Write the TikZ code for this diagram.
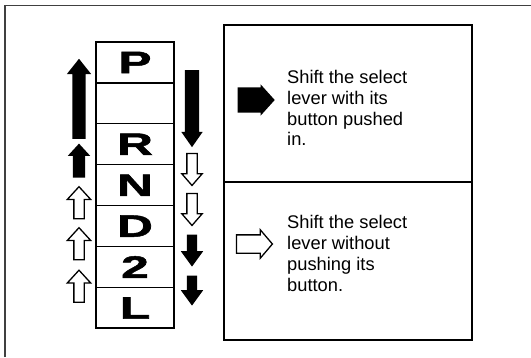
\documentclass[tikz,border=0pt]{standalone}
\usepackage{fontspec}
\setmainfont{Liberation Sans}
\newfontfamily\gearfont{Liberation Sans}[FakeBold=1.5]
\usepackage{graphicx}
\usetikzlibrary{positioning, shapes.arrows}
\newcommand{\gear}[1]{\scalebox{1.6}[1]{#1}}

\begin{document}
\begin{tikzpicture}[
    x=1pt, y=-1pt,
    node distance=0pt,
    cell/.style={draw, rectangle, line width=1.1pt, minimum width=78pt, minimum height=40.9pt, inner sep=0pt, outer sep=0pt, font=\fontsize{31}{31}\gearfont\bfseries},
    panel/.style={draw, rectangle, line width=1.2pt, minimum width=248pt, inner sep=0pt, outer sep=0pt},
    note/.style={anchor=north west, inner sep=0pt, align=left, font=\fontsize{18.3}{20.8}\selectfont},
    blackarrow/.style={single arrow, fill=black, draw=none, inner xsep=0pt},
    whitearrow/.style={single arrow, fill=white, draw=black, line width=1.3pt, inner xsep=0pt}
]
\useasboundingbox (0,0) rectangle (531,357);
\draw[line width=1.5pt, black!75] (5,357) -- (5,5.5) -- (531,5.5);

\node[cell] (P) at (135,62.5) {\gear{P}};
\node[cell, below=of P] (blank) {};
\node[cell, below=of blank] (R) {\gear{R}};
\node[cell, below=of R] (N) {\gear{N}};
\node[cell, below=of N] (D) {\gear{D}};
\node[cell, below=of D] (2) {\gear{2}};
\node[cell, below=of 2] (L) {\gear{L}};
\draw[line width=2pt] (P.north west) rectangle (L.south east);

\node[blackarrow, rotate=90, minimum height=80pt, inner ysep=6.5pt, single arrow head extend=5.5pt, single arrow tip angle=77] (up1) at (79,103) {};
\node[blackarrow, rotate=90, minimum height=34pt, inner ysep=6pt, single arrow head extend=5pt, single arrow tip angle=85] (up2) at (79,164) {};
\node[whitearrow, rotate=90, minimum height=32pt, inner ysep=4.5pt, single arrow head extend=6.5pt, single arrow tip angle=85] (up3) at (79,205.5) {};
\node[whitearrow, rotate=90, minimum height=32pt, inner ysep=4.5pt, single arrow head extend=6.5pt, single arrow tip angle=85] (up4) at (79,246.5) {};
\node[whitearrow, rotate=90, minimum height=32pt, inner ysep=4.5pt, single arrow head extend=6.5pt, single arrow tip angle=85] (up5) at (79,289) {};

\node[blackarrow, rotate=-90, minimum height=77pt, inner ysep=7pt, single arrow head extend=3.5pt, single arrow tip angle=70] (down1) at (192,103.5) {};
\node[whitearrow, rotate=-90, minimum height=32pt, inner ysep=4.5pt, single arrow head extend=5pt, single arrow tip angle=82] (down2) at (192,166.5) {};
\node[whitearrow, rotate=-90, minimum height=32pt, inner ysep=4.5pt, single arrow head extend=5pt, single arrow tip angle=82] (down3) at (192,206.5) {};
\node[blackarrow, rotate=-90, minimum height=32pt, inner ysep=5pt, single arrow head extend=6pt, single arrow tip angle=72] (down4) at (192,247) {};
\node[blackarrow, rotate=-90, minimum height=30pt, inner ysep=5pt, single arrow head extend=6pt, single arrow tip angle=72] (down5) at (192,287) {};

\node[panel, minimum height=157pt] (top) at (348,103.5) {};
\node[panel, minimum height=158pt, below=of top] (bottom) {};

\node[blackarrow, minimum height=37pt, inner ysep=12.5pt, single arrow head extend=3pt, single arrow tip angle=96] (push) at (250.5,100) {};
\node[whitearrow, minimum height=36pt, inner ysep=8.5pt, single arrow head extend=5pt, single arrow tip angle=99] (nopush) at (250.5,244) {};

\node[note] (text1) at (287,70) {Shift the select\\lever with its\\button pushed\\in.};
\node[note] (text2) at (287,215.5) {Shift the select\\lever without\\pushing its\\button.};

\end{tikzpicture}
\end{document}
